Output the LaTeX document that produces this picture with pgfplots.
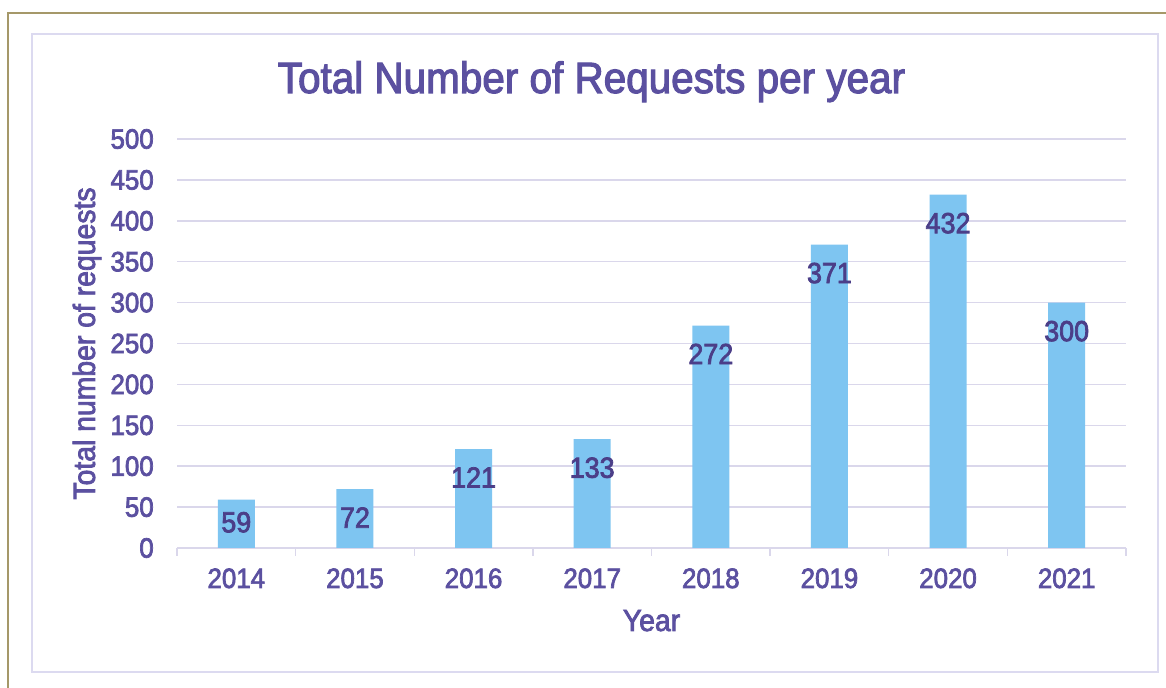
\documentclass[border=0pt]{standalone}
\usepackage{fontspec}
\setmainfont{Liberation Sans}
\newfontfamily\medfont[FakeBold=2.5, FakeStretch=0.925]{Liberation Sans}
\usepackage{pgfplots}
\pgfplotsset{compat=1.18}
\definecolor{tpurple}{RGB}{91,80,160}
\definecolor{lpurple}{RGB}{75,62,136}
\definecolor{barblue}{RGB}{126,197,241}
\definecolor{gridc}{RGB}{218,215,235}
\definecolor{khaki}{RGB}{165,152,105}
\definecolor{framec}{RGB}{220,218,240}
\begin{document}
\begin{tikzpicture}
\useasboundingbox (0,0) rectangle (874.5pt,516pt);
\clip (0,0) rectangle (874.5pt,516pt);
\fill[white] (0,0) rectangle (874.5pt,516pt);
\draw[khaki, line width=1.5pt] (6pt,-20pt) -- (6pt,506.25pt) -- (900pt,506.25pt);
\draw[framec, line width=1.1pt] (24pt,12pt) rectangle (868.5pt,490.5pt);
\node[anchor=base, text=tpurple, font=\medfont\fontsize{32.8}{38}\selectfont, inner sep=0pt] at (443.6pt,446.25pt) {Total Number of Requests per year};
\begin{axis}[
  at={(132.75pt,105pt)}, anchor=south west,
  scale only axis, width=711.75pt, height=306.75pt,
  xmin=-0.5, xmax=7.5, ymin=0, ymax=500,
  ytick={0,50,...,500},
  xtick={0,...,7},
  xticklabels={2014,2015,2016,2017,2018,2019,2020,2021},
  major tick length=0pt,
  extra x ticks={-0.5,0.5,1.5,2.5,3.5,4.5,5.5,6.5,7.5},
  extra x tick labels={},
  extra x tick style={major tick length=6pt, tick align=outside, grid=none,
    tick style={draw=gridc, line width=1.1pt}},
  axis x line*=bottom, axis y line*=left,
  y axis line style={draw=none},
  x axis line style={draw=gridc, line width=1.1pt, -},
  ytick style={draw=none},
  xtick style={draw=gridc, line width=1.1pt},
  ymajorgrids, grid style={gridc, line width=1.1pt},
  tick label style={font=\medfont\fontsize{21}{25}\selectfont, text=tpurple, /pgf/number format/assume math mode=true},
  yticklabel style={inner sep=0pt, xshift=-17.25pt},
  xticklabel style={anchor=base, yshift=-30pt},
  xlabel={Year}, ylabel={Total number of requests},
  every axis x label/.style={at={(axis description cs:0.5,0)}, anchor=base, yshift=-62.25pt, font=\medfont\fontsize{23}{27}\selectfont, text=tpurple},
  every axis y label/.style={at={(axis description cs:-0.09484,0.5)}, anchor=center, rotate=90, font=\medfont\fontsize{23}{27}\selectfont, text=tpurple},
  ybar, bar width=27.75pt,
  visualization depends on={y \as \rawy},
  nodes near coords,
  nodes near coords style={anchor=north, inner sep=0pt, yshift={ifthenelse(\rawy<65,-9,-13.5)*1pt}, text=lpurple, font=\medfont\fontsize{21.8}{26}\selectfont, /pgf/number format/assume math mode=true},
]
\addplot[fill=barblue, draw=none] coordinates {(0,59) (1,72) (2,121) (3,133) (4,272) (5,371) (6,432) (7,300)};
\end{axis}
\end{tikzpicture}
\end{document}
